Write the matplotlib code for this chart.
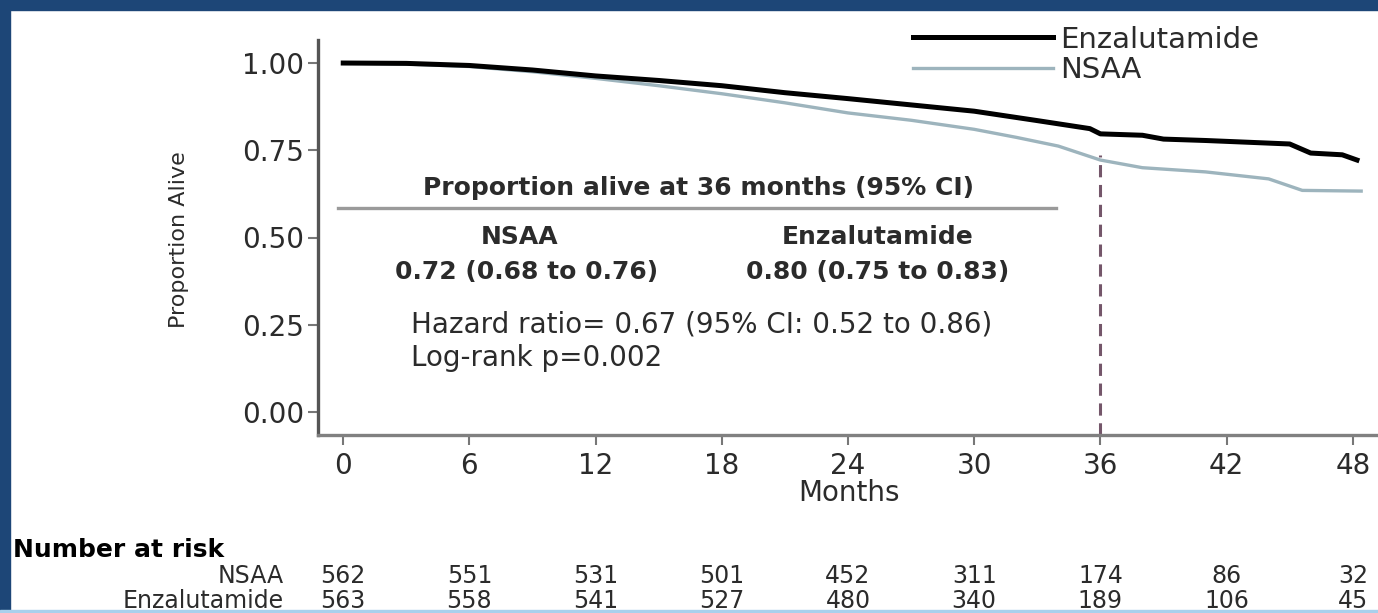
import matplotlib
matplotlib.use("Agg")
import matplotlib.pyplot as plt
from matplotlib.patches import Rectangle
from matplotlib.transforms import blended_transform_factory

plt.rcParams['font.family'] = ['DejaVu Sans']

# Kaplan-Meier estimates (months, proportion alive)
enz_months = [0, 3, 6, 9, 12, 15, 18, 21, 24, 27, 30, 33, 35.5, 36, 38, 39,
              41, 45, 46, 47.5, 48.2]
enz_surv = [1.0, 0.999, 0.993, 0.98, 0.963, 0.95, 0.935, 0.915, 0.898, 0.88,
            0.862, 0.835, 0.812, 0.797, 0.793, 0.782, 0.778, 0.768, 0.742,
            0.737, 0.722]
nsaa_months = [0, 3, 6, 9, 12, 15, 18, 21, 24, 27, 30, 32, 34, 36, 38, 41,
               44, 45.6, 48.4]
nsaa_surv = [1.0, 0.997, 0.99, 0.975, 0.956, 0.935, 0.912, 0.886, 0.857,
             0.836, 0.81, 0.787, 0.762, 0.722, 0.70, 0.688, 0.668, 0.635, 0.633]

# Number at risk table
risk_months = [0, 6, 12, 18, 24, 30, 36, 42, 48]
risk_nsaa = [562, 551, 531, 501, 452, 311, 174, 86, 32]
risk_enz = [563, 558, 541, 527, 480, 340, 189, 106, 45]

landmark = 36
nsaa_at_36 = "0.72 (0.68 to 0.76)"
enz_at_36 = "0.80 (0.75 to 0.83)"
hr_text = "Hazard ratio= 0.67 (95% CI: 0.52 to 0.86)"
p_text = "Log-rank p=0.002"

W, H = 1378, 613
fig = plt.figure(figsize=(W / 100, H / 100), dpi=100)
fig.patch.set_facecolor('white')

# dark frame on top/left, light edge at bottom
fig.add_artist(Rectangle((0, 0), 10 / W, 1, transform=fig.transFigure,
                         color='#1d4677', zorder=10))
fig.add_artist(Rectangle((0, 1 - 10 / H), 1, 10 / H, transform=fig.transFigure,
                         color='#1d4677', zorder=10))
fig.add_artist(Rectangle((0, 0), 1, 3 / H, transform=fig.transFigure,
                         color='#a9d0ec', zorder=10))

ax = fig.add_axes([318 / W, (H - 435) / H, 1 - 318 / W, (435 - 40) / H])
ax.set_xlim(-1.2, 49.2)
ax.set_ylim(-0.066, 1.066)

txt = '#2b2b2b'
line_nsaa, = ax.plot(nsaa_months, nsaa_surv, color='#9db4bd', lw=2.4,
                     label='NSAA')
line_enz, = ax.plot(enz_months, enz_surv, color='black', lw=3.6,
                    label='Enzalutamide')

# landmark line at 36 months
ax.plot([landmark, landmark], [-0.066, 0.735], color='#74566a', lw=2.2,
        ls=(0, (4, 2.5)), zorder=1)

for side in ['top', 'right']:
    ax.spines[side].set_visible(False)
ax.spines['left'].set_color('#555555')
ax.spines['left'].set_linewidth(2.4)
ax.spines['bottom'].set_color('#808080')
ax.spines['bottom'].set_linewidth(2.4)

ax.set_yticks([0, 0.25, 0.5, 0.75, 1.0])
ax.set_yticklabels(['0.00', '0.25', '0.50', '0.75', '1.00'])
ax.set_xticks(risk_months)
ax.tick_params(axis='both', colors='#777777', labelcolor=txt, labelsize=20,
               length=7, width=1.5)
ax.tick_params(axis='y', pad=3)
ax.tick_params(axis='x', pad=5)

ax.set_ylabel('Proportion Alive', fontsize=16, color=txt)
ax.yaxis.set_label_coords(-0.122, 0.494)
ax.set_xlabel('Months', fontsize=20, color=txt)
ax.xaxis.set_label_coords(0.501, -0.112)

# legend
ax.legend(handles=[line_enz, line_nsaa], loc='upper left', frameon=False,
          bbox_to_anchor=(898 / W, 1 - 11 / H), bbox_transform=fig.transFigure,
          fontsize=21, handlelength=4.8, handletextpad=0.25, labelspacing=0.1,
          borderpad=0, labelcolor=txt)

# summary block
ax.plot([-0.25, 33.9], [0.585, 0.585], color='#9a9a9a', lw=2.4)
ax.text(16.9, 0.642, 'Proportion alive at 36 months (95% CI)', ha='center',
        va='center', fontsize=18, fontweight='bold', color=txt)
ax.text(8.4, 0.50, 'NSAA', ha='center', va='center', fontsize=18,
        fontweight='bold', color=txt)
ax.text(25.4, 0.50, 'Enzalutamide', ha='center', va='center', fontsize=18,
        fontweight='bold', color=txt)
ax.text(8.7, 0.40, nsaa_at_36, ha='center', va='center', fontsize=18,
        fontweight='semibold', color=txt)
ax.text(25.4, 0.40, enz_at_36, ha='center', va='center', fontsize=18,
        fontweight='semibold', color=txt)
ax.text(3.2, 0.25, hr_text, ha='left', va='center', fontsize=20, color=txt)
ax.text(3.2, 0.155, p_text, ha='left', va='center', fontsize=20, color=txt)

# number at risk below the axis
tr = blended_transform_factory(ax.transData, fig.transFigure)
fig.text(13 / W, 1 - 550 / H, 'Number at risk', ha='left', va='center',
         fontsize=18, fontweight='bold', color='black')
fig.text(284 / W, 1 - 576 / H, 'NSAA', ha='right', va='center', fontsize=17,
         color=txt)
fig.text(284 / W, 1 - 601 / H, 'Enzalutamide', ha='right', va='center',
         fontsize=17, color=txt)
for m, a, b in zip(risk_months, risk_nsaa, risk_enz):
    ax.text(m, 1 - 576 / H, str(a), transform=tr, ha='center', va='center',
            fontsize=17, color=txt, clip_on=False)
    ax.text(m, 1 - 601 / H, str(b), transform=tr, ha='center', va='center',
            fontsize=17, color=txt, clip_on=False)

fig.savefig('out.png', dpi=100, facecolor='white')
